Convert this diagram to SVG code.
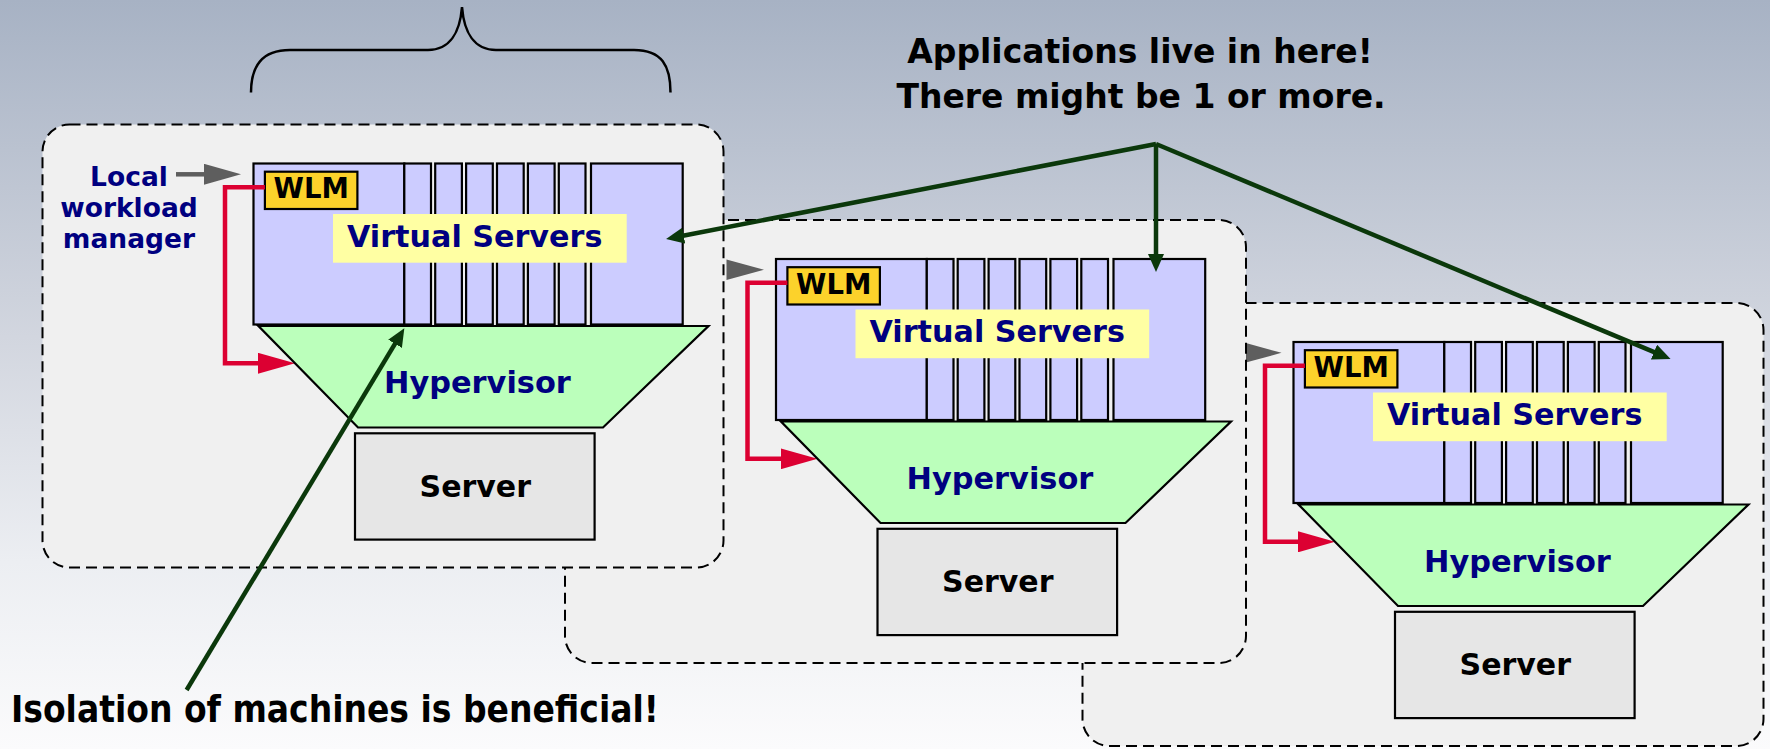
<svg xmlns="http://www.w3.org/2000/svg" width="1770" height="749" viewBox="0 0 1770 749">
<defs>
<linearGradient id="bg" x1="0" y1="0" x2="0" y2="1">
<stop offset="0" stop-color="#a7b2c4"/>
<stop offset="0.45" stop-color="#d2d6df"/>
<stop offset="0.75" stop-color="#eceef2"/>
<stop offset="1" stop-color="#fbfbfc"/>
</linearGradient>
<marker id="ah-green" markerUnits="userSpaceOnUse" markerWidth="18" markerHeight="16" refX="10" refY="8" orient="auto">
<path d="M0,0 L18,8 L0,16 z" fill="#0b380b"/>
</marker>
<marker id="ah-red" markerUnits="userSpaceOnUse" markerWidth="37" markerHeight="21" refX="2" refY="10.5" orient="auto">
<path d="M0,0 L37,10.5 L0,21 z" fill="#dc0032"/>
</marker>
<marker id="ah-gray" markerUnits="userSpaceOnUse" markerWidth="37" markerHeight="21" refX="2" refY="10.5" orient="auto">
<path d="M0,0 L37,10.5 L0,21 z" fill="#5e5e5e"/>
</marker>
<style>
.frame{fill:#f0f0f0;stroke:#000;stroke-width:2;stroke-dasharray:11 6}
.vs{fill:#ccccff;stroke:#000;stroke-width:2.2}
.lbl{fill:#ffffa3}
.wlm{fill:#fcd22b;stroke:#000;stroke-width:2.2}
.hyp{fill:#bbffbb;stroke:#000;stroke-width:2.2;stroke-linejoin:miter}
.srv{fill:#e6e6e6;stroke:#000;stroke-width:2.2}
.red{fill:none;stroke:#dc0032;stroke-width:4.5;marker-end:url(#ah-red)}
.gray{fill:none;stroke:#5e5e5e;stroke-width:4.5;marker-end:url(#ah-gray)}
.gray-head{fill:#5e5e5e}
.t{font-family:'DejaVu Sans','Liberation Sans',sans-serif;font-weight:bold}
.navy{fill:#000080}
.blk{fill:#000}
.mid{text-anchor:middle}
.gl{fill:none;stroke:#0b380b;stroke-width:4.5;marker-end:url(#ah-green)}
.brace{fill:none;stroke:#000;stroke-width:2.5}
</style>
</defs>
<rect x="0" y="0" width="1770" height="749" fill="url(#bg)"/>

<g id="brace">
<path class="brace" d="M251,92.6 C251,66 262,50 290,50 L428,50 C450,50 460,32 462,7 C464,32 474,50 496,50 L634,50 C662,50 670.5,66 670.5,92.6"/>
</g>

<g id="node3" transform="translate(1040,178.5)">
<rect class="frame" x="42.5" y="124.5" width="681" height="443" rx="27"/>
<polygon class="gray-head" points="204,164 241.5,174.3 204,184.6"/>
<rect class="vs" x="253.5" y="163.5" width="150.8" height="161"/>
<rect class="vs" x="404.3" y="163.5" width="26.7" height="161"/>
<rect class="vs" x="435.2" y="163.5" width="26.7" height="161"/>
<rect class="vs" x="466.1" y="163.5" width="26.7" height="161"/>
<rect class="vs" x="497" y="163.5" width="26.7" height="161"/>
<rect class="vs" x="527.9" y="163.5" width="26.7" height="161"/>
<rect class="vs" x="558.8" y="163.5" width="26.7" height="161"/>
<rect class="vs" x="591" y="163.5" width="91.7" height="161"/>
<rect class="lbl" x="333" y="214" width="293.7" height="48.7"/>
<text class="t navy mid" x="474.7" y="246.7" font-size="30.2">Virtual Servers</text>
<rect class="wlm" x="264.9" y="171.7" width="92.5" height="37.3"/>
<text class="t blk mid" x="311.2" y="198.3" font-size="27.5">WLM</text>
<polyline class="red" points="264.9,187.3 225,187.3 225,363.3 260,363.3"/>
<polygon class="hyp" points="258.5,326 708.5,326 603,427.5 358,427.5"/>
<text class="t navy mid" x="477.4" y="393" font-size="30.4">Hypervisor</text>
<rect class="srv" x="355" y="433.3" width="239.6" height="106.3"/>
<text class="t blk mid" x="475.3" y="496.5" font-size="30">Server</text>
</g>

<g id="node2" transform="translate(522.5,95.5)">
<rect class="frame" x="42.5" y="124.5" width="681" height="443" rx="27"/>
<polygon class="gray-head" points="204,164 241.5,174.3 204,184.6"/>
<rect class="vs" x="253.5" y="163.5" width="150.8" height="161"/>
<rect class="vs" x="404.3" y="163.5" width="26.7" height="161"/>
<rect class="vs" x="435.2" y="163.5" width="26.7" height="161"/>
<rect class="vs" x="466.1" y="163.5" width="26.7" height="161"/>
<rect class="vs" x="497" y="163.5" width="26.7" height="161"/>
<rect class="vs" x="527.9" y="163.5" width="26.7" height="161"/>
<rect class="vs" x="558.8" y="163.5" width="26.7" height="161"/>
<rect class="vs" x="591" y="163.5" width="91.7" height="161"/>
<rect class="lbl" x="333" y="214" width="293.7" height="48.7"/>
<text class="t navy mid" x="474.7" y="246.7" font-size="30.2">Virtual Servers</text>
<rect class="wlm" x="264.9" y="171.7" width="92.5" height="37.3"/>
<text class="t blk mid" x="311.2" y="198.3" font-size="27.5">WLM</text>
<polyline class="red" points="264.9,187.3 225,187.3 225,363.3 260,363.3"/>
<polygon class="hyp" points="258.5,326 708.5,326 603,427.5 358,427.5"/>
<text class="t navy mid" x="477.4" y="393" font-size="30.4">Hypervisor</text>
<rect class="srv" x="355" y="433.3" width="239.6" height="106.3"/>
<text class="t blk mid" x="475.3" y="496.5" font-size="30">Server</text>
</g>

<g id="node1">
<rect class="frame" x="42.5" y="124.5" width="681" height="443" rx="27"/>
<text class="t navy mid" font-size="26.5"><tspan x="129" y="186">Local</tspan><tspan x="129" y="217">workload</tspan><tspan x="129" y="248">manager</tspan></text>
<line class="gray" x1="176" y1="174.3" x2="206" y2="174.3"/>
<rect class="vs" x="253.5" y="163.5" width="150.8" height="161"/>
<rect class="vs" x="404.3" y="163.5" width="26.7" height="161"/>
<rect class="vs" x="435.2" y="163.5" width="26.7" height="161"/>
<rect class="vs" x="466.1" y="163.5" width="26.7" height="161"/>
<rect class="vs" x="497" y="163.5" width="26.7" height="161"/>
<rect class="vs" x="527.9" y="163.5" width="26.7" height="161"/>
<rect class="vs" x="558.8" y="163.5" width="26.7" height="161"/>
<rect class="vs" x="591" y="163.5" width="91.7" height="161"/>
<rect class="lbl" x="333" y="214" width="293.7" height="48.7"/>
<text class="t navy mid" x="474.7" y="246.7" font-size="30.2">Virtual Servers</text>
<rect class="wlm" x="264.9" y="171.7" width="92.5" height="37.3"/>
<text class="t blk mid" x="311.2" y="198.3" font-size="27.5">WLM</text>
<polyline class="red" points="264.9,187.3 225,187.3 225,363.3 260,363.3"/>
<polygon class="hyp" points="258.5,326 708.5,326 603,427.5 358,427.5"/>
<text class="t navy mid" x="477.4" y="393" font-size="30.4">Hypervisor</text>
<rect class="srv" x="355" y="433.3" width="239.6" height="106.3"/>
<text class="t blk mid" x="475.3" y="496.5" font-size="30">Server</text>
</g>

<g id="title">
<text class="t blk mid" font-size="33"><tspan x="1140" y="63">Applications live in here!</tspan><tspan x="1141" y="108">There might be 1 or more.</tspan></text>
</g>

<g id="isolation-label">
<text x="11" y="721.5" font-size="36.7" font-weight="bold" font-stretch="condensed" fill="#000" style="font-family:'DejaVu Sans Condensed','DejaVu Sans','Liberation Sans',sans-serif">Isolation of machines is beneficial!</text>
</g>

<g id="connectors">
<path class="gl" d="M1156,144 L673.9,237.5"/>
<path class="gl" d="M1156,144 L1156,264"/>
<path class="gl" d="M1156,144 L1663.2,355.9"/>
<path class="gl" d="M186.6,690 L400.2,335.2"/>
</g>
</svg>
